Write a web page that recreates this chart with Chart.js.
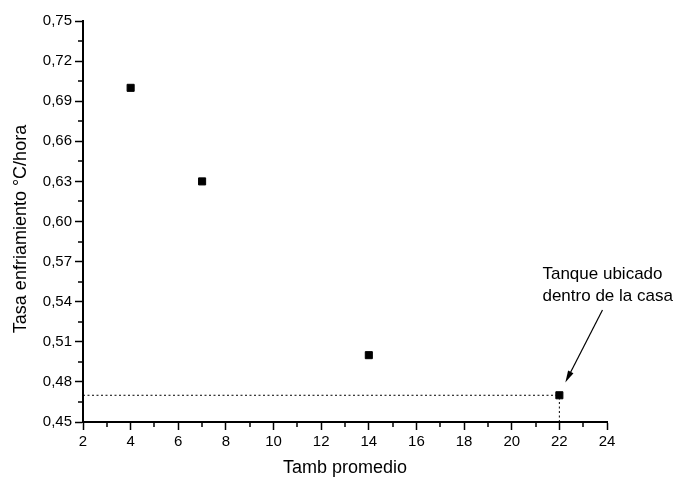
<!DOCTYPE html>
<html>
<head>
<meta charset="utf-8">
<title>Tasa de enfriamiento</title>
<script src="https://cdn.jsdelivr.net/npm/chart.js@4/dist/chart.umd.min.js"></script>
<style>
  html, body { margin: 0; padding: 0; background: #fff; }
  #wrap { width: 684px; height: 479px; }
</style>
</head>
<body>
<div id="wrap"><canvas id="c" width="684" height="479"></canvas></div>
<script>
// Average ambient temperature (°C) and measured cooling rate (°C/hora)
const tambPromedio = [4, 7, 14, 22];
const tasaEnfriamiento = [0.70, 0.63, 0.50, 0.47];

// Axis tick values
const xTicks = [2, 4, 6, 8, 10, 12, 14, 16, 18, 20, 22, 24];
const yTicks = [0.45, 0.48, 0.51, 0.54, 0.57, 0.60, 0.63, 0.66, 0.69, 0.72, 0.75];

// Highlighted point (tank inside the house)
const destacadoX = 22;
const destacadoY = 0.47;
const notaLineas = ['Tanque ubicado', 'dentro de la casa'];

const FONT = '"Liberation Sans", Arial, sans-serif';

const puntos = tambPromedio.map((x, i) => ({ x, y: tasaEnfriamiento[i] }));
const xMin = xTicks[0], xMax = xTicks[xTicks.length - 1];
const yMin = yTicks[0], yMax = yTicks[yTicks.length - 1];

// Minor ticks halfway between the labelled ones, plus annotation with arrow
const extras = {
  id: 'extras',
  afterDraw(chart) {
    const ctx = chart.ctx;
    const xs = chart.scales.x, ys = chart.scales.y;
    ctx.save();
    ctx.strokeStyle = '#000';
    ctx.lineWidth = 1.5;
    ctx.beginPath();
    for (let i = 0; i < xTicks.length - 1; i++) {
      const px = Math.round(xs.getPixelForValue((xTicks[i] + xTicks[i + 1]) / 2));
      ctx.moveTo(px, ys.bottom);
      ctx.lineTo(px, ys.bottom + 5);
    }
    for (let i = 0; i < yTicks.length - 1; i++) {
      const py = Math.round(ys.getPixelForValue((yTicks[i] + yTicks[i + 1]) / 2));
      ctx.moveTo(xs.left, py);
      ctx.lineTo(xs.left - 5, py);
    }
    ctx.stroke();

    // annotation text
    ctx.fillStyle = '#000';
    ctx.font = '17px ' + FONT;
    ctx.textAlign = 'left';
    ctx.textBaseline = 'middle';
    const tx = xs.getPixelForValue(21.29);
    ctx.fillText(notaLineas[0], tx, ys.getPixelForValue(0.5605));
    ctx.fillText(notaLineas[1], tx, ys.getPixelForValue(0.5440));

    // arrow pointing at the highlighted point
    const x0 = xs.getPixelForValue(23.81), y0 = ys.getPixelForValue(0.5338);
    const x1 = xs.getPixelForValue(22.25), y1 = ys.getPixelForValue(0.4795);
    const ang = Math.atan2(y1 - y0, x1 - x0);
    const hl = 12, hw = 3;
    ctx.lineWidth = 1.2;
    ctx.beginPath();
    ctx.moveTo(x0, y0);
    ctx.lineTo(x1 - Math.cos(ang) * hl * 0.8, y1 - Math.sin(ang) * hl * 0.8);
    ctx.stroke();
    ctx.beginPath();
    ctx.moveTo(x1, y1);
    ctx.lineTo(x1 - Math.cos(ang) * hl - Math.sin(ang) * hw, y1 - Math.sin(ang) * hl + Math.cos(ang) * hw);
    ctx.lineTo(x1 - Math.cos(ang) * hl + Math.sin(ang) * hw, y1 - Math.sin(ang) * hl - Math.cos(ang) * hw);
    ctx.closePath();
    ctx.fill();
    ctx.restore();
  }
};

const fmt = v => Number(v).toFixed(2).replace('.', ',');

new Chart(document.getElementById('c'), {
  type: 'scatter',
  data: {
    datasets: [
      {
        label: 'guía horizontal',
        type: 'line',
        data: [{ x: xMin, y: destacadoY }, { x: destacadoX, y: destacadoY }],
        borderColor: '#000',
        borderWidth: 1,
        borderDash: [2, 2.5],
        pointRadius: 0,
        fill: false,
        order: 2
      },
      {
        label: 'guía vertical',
        type: 'line',
        data: [{ x: destacadoX, y: yMin }, { x: destacadoX, y: destacadoY }],
        borderColor: '#000',
        borderWidth: 1,
        borderDash: [2, 2.5],
        pointRadius: 0,
        fill: false,
        order: 2
      },
      {
        label: 'Tasa enfriamiento',
        data: puntos,
        pointStyle: 'rect',
        pointRadius: 5,
        pointHoverRadius: 5,
        backgroundColor: '#000',
        borderColor: '#000',
        borderWidth: 1,
        order: 1
      }
    ]
  },
  options: {
    responsive: false,
    devicePixelRatio: 1,
    animation: false,
    events: [],
    layout: { padding: { top: 21, right: 77, left: 0, bottom: 0 } },
    plugins: {
      legend: { display: false },
      tooltip: { enabled: false }
    },
    scales: {
      x: {
        type: 'linear',
        min: xMin,
        max: xMax,
        afterBuildTicks(scale) { scale.ticks = xTicks.map(v => ({ value: v })); },
        afterFit(scale) { scale.height = 57; },
        grid: { display: true, drawOnChartArea: false, drawTicks: true, tickLength: 8, tickWidth: 1.5, tickColor: '#000' },
        border: { display: true, color: '#000', width: 2 },
        ticks: { color: '#000', font: { family: FONT, size: 15 }, padding: 3, maxRotation: 0, autoSkip: false },
        title: { display: true, text: 'Tamb promedio', color: '#000', font: { family: FONT, size: 18 }, padding: { top: 0, bottom: 0 } }
      },
      y: {
        type: 'linear',
        min: yMin,
        max: yMax,
        afterBuildTicks(scale) { scale.ticks = yTicks.map(v => ({ value: v })); },
        afterFit(scale) { scale.width = 83; },
        grid: { display: true, drawOnChartArea: false, drawTicks: true, tickLength: 8, tickWidth: 1.5, tickColor: '#000' },
        border: { display: true, color: '#000', width: 2 },
        ticks: { color: '#000', font: { family: FONT, size: 15 }, padding: 3, autoSkip: false, callback: v => fmt(v) },
        title: { display: true, text: 'Tasa enfriamiento °C/hora   ', color: '#000', font: { family: FONT, size: 18 }, padding: { top: 10, bottom: 0 } }
      }
    }
  },
  plugins: [extras]
});
</script>
</body>
</html>
